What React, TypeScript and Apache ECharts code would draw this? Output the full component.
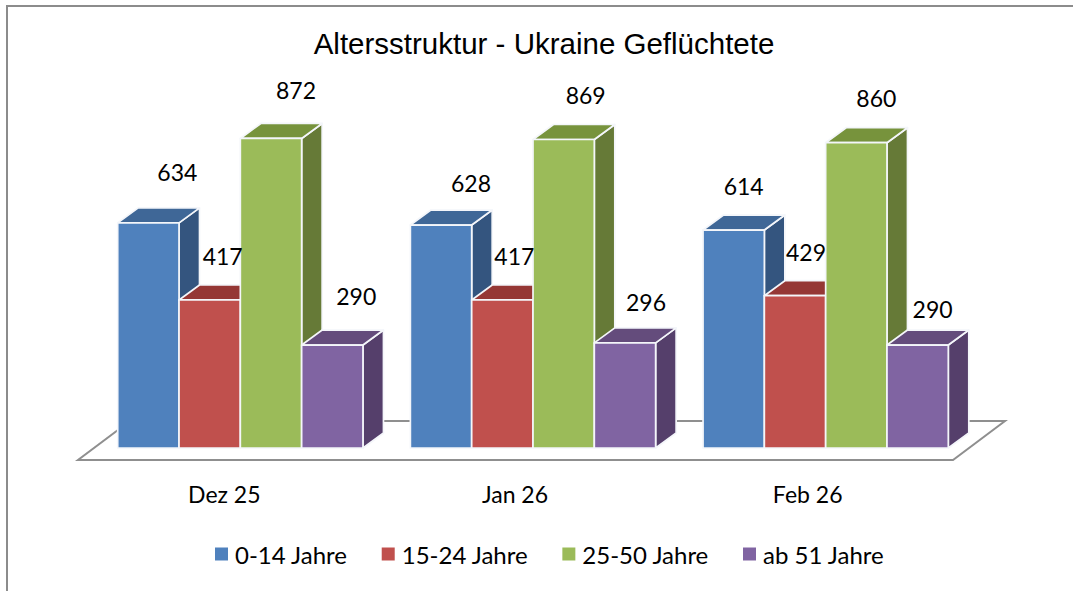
import React, { useEffect, useRef } from "react";
import * as echarts from "echarts";

const categories = ["Dez 25", "Jan 26", "Feb 26"];
const seriesNames = ["0-14 Jahre", "15-24 Jahre", "25-50 Jahre", "ab 51 Jahre"];
const kids = [634, 628, 614];
const youth = [417, 417, 429];
const adults = [872, 869, 860];
const seniors = [290, 296, 290];
const seriesValues = [kids, youth, adults, seniors];

const frontColors = ["#4F81BD", "#C0504D", "#9BBB59", "#8064A2"];
const topColors = ["#3F6797", "#953735", "#77933C", "#644C7C"];
const sideColors = ["#34557F", "#7F3A38", "#667A37", "#553F6B"];

// manual data-label offsets from the centre of each bar's front face top [dx, dy]
const labelOffsets = [
  [[29, -51], [30, -42], [10, -44]],
  [[13, -44], [12, -44], [11, -44]],
  [[25, -48], [22, -45], [20, -45]],
  [[24, -49], [21, -41], [15, -36]],
];
// category labels sit left of the band centres in the reference
const categoryShifts = [32, 36, 36];

const DEPTH_X = 20.5;
const DEPTH_Y = -15;
const BAR_RATIO = 0.2095;

function barGeometry(api: any, seriesIndex: number) {
  const p = api.coord([api.value(0), api.value(1)]);
  const base = api.coord([api.value(0), 0]);
  const band = api.size([1, 0])[0];
  const w = band * BAR_RATIO;
  const x = p[0] - 2 * w + seriesIndex * w;
  return { x, w, top: p[1], bottom: base[1] };
}

function bar3d(seriesIndex: number) {
  return (_params: any, api: any) => {
    const { x, w, top, bottom } = barGeometry(api, seriesIndex);
    const stroke = { stroke: "#f4f6fa", lineWidth: 1.7, lineJoin: "round" };
    return {
      type: "group",
      children: [
        {
          type: "polygon",
          shape: { points: [[x + w, top], [x + w + DEPTH_X, top + DEPTH_Y], [x + w + DEPTH_X, bottom + DEPTH_Y], [x + w, bottom]] },
          style: { fill: sideColors[seriesIndex], ...stroke },
        },
        {
          type: "polygon",
          shape: { points: [[x, top], [x + DEPTH_X, top + DEPTH_Y], [x + w + DEPTH_X, top + DEPTH_Y], [x + w, top]] },
          style: { fill: topColors[seriesIndex], ...stroke },
        },
        {
          type: "rect",
          shape: { x, y: top, width: w, height: bottom - top },
          style: { fill: frontColors[seriesIndex], ...stroke },
        },
      ],
    };
  };
}

function valueLabel(_params: any, api: any) {
  const s = api.value(2);
  const c = api.value(0);
  const { x, w, top } = barGeometry(api, s);
  const off = labelOffsets[s][c];
  return {
    type: "text",
    style: {
      x: x + w / 2 + off[0],
      y: top + off[1],
      text: String(api.value(1)),
      fill: "#000000",
      font: "23px Lato, Carlito, sans-serif",
      align: "center",
      verticalAlign: "middle",
    },
  };
}

export default function App() {
  const ref = useRef<HTMLDivElement>(null);
  useEffect(() => {
    document.body.style.margin = "0";
    const chart = echarts.init(ref.current!, undefined, { renderer: "svg" });
    const labelData: number[][] = [];
    seriesValues.forEach((vals, s) => vals.forEach((v, c) => labelData.push([c, v, s])));
    chart.setOption({
      animation: false,
      backgroundColor: "#ffffff",
      title: {
        text: "Altersstruktur - Ukraine Geflüchtete",
        left: 539,
        top: 23,
        textAlign: "center",
        textStyle: { fontFamily: "'Liberation Sans', Arial, sans-serif", fontSize: 29.5, fontWeight: "normal", color: "#000000" },
      },
      legend: {
        data: seriesNames,
        left: 210,
        top: 537,
        icon: "rect",
        itemWidth: 13,
        itemHeight: 13,
        itemGap: 34,
        textStyle: { fontFamily: "Lato, Carlito, sans-serif", fontSize: 24, color: "#000000", padding: [0, 0, 0, 2] },
      },
      grid: { left: 94, width: 878, top: 93, height: 355 },
      xAxis: {
        type: "category",
        data: categories.map((value, i) => ({ value, textStyle: { padding: [0, categoryShifts[i], 0, 0] } })),
        axisLine: { show: false },
        axisTick: { show: false },
        axisLabel: { margin: 34, fontFamily: "Lato, Carlito, sans-serif", fontSize: 23, color: "#000000" },
      },
      yAxis: { type: "value", min: 0, max: 1000, show: false, splitLine: { show: false } },
      graphic: [
        {
          type: "line",
          silent: true,
          shape: { x1: 6, y1: 6, x2: 1073, y2: 6 },
          style: { stroke: "#8c8c8c", lineWidth: 2 },
        },
        {
          type: "line",
          silent: true,
          shape: { x1: 7, y1: 5, x2: 7, y2: 591 },
          style: { stroke: "#8c8c8c", lineWidth: 2 },
        },
        {
          type: "polygon",
          silent: true,
          shape: { points: [[78, 460], [953, 460], [1005, 421], [130, 421]] },
          style: { fill: "#ffffff", stroke: "#8f8f8f", lineWidth: 2 },
        },
      ],
      series: [
        ...seriesNames.map((name, i) => ({
          name,
          type: "custom",
          renderItem: bar3d(i),
          itemStyle: { color: frontColors[i] },
          encode: { x: 0, y: 1 },
          data: seriesValues[i].map((v, c) => [c, v]),
          z: 2,
        })),
        {
          name: "labels",
          type: "custom",
          renderItem: valueLabel,
          encode: { x: 0, y: 1 },
          data: labelData,
          z: 5,
          silent: true,
        },
      ],
    });
    return () => chart.dispose();
  }, []);
  return <div ref={ref} style={{ width: 1073, height: 591 }} />;
}
